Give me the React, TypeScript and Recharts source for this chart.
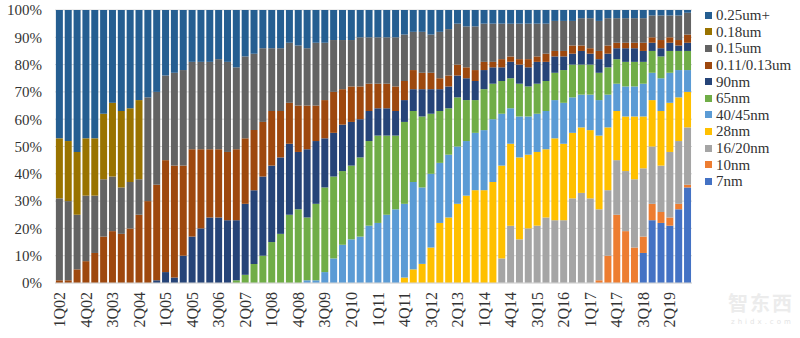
import React from 'react';
import { BarChart, Bar, XAxis, YAxis, CartesianGrid } from 'recharts';

const quarters = [
  '1Q02', '2Q02', '3Q02', '4Q02', '1Q03', '2Q03', '3Q03', '4Q03',
  '1Q04', '2Q04', '3Q04', '4Q04', '1Q05', '2Q05', '3Q05', '4Q05',
  '1Q06', '2Q06', '3Q06', '4Q06', '1Q07', '2Q07', '3Q07', '4Q07',
  '1Q08', '2Q08', '3Q08', '4Q08', '1Q09', '2Q09', '3Q09', '4Q09',
  '1Q10', '2Q10', '3Q10', '4Q10', '1Q11', '2Q11', '3Q11', '4Q11',
  '1Q12', '2Q12', '3Q12', '4Q12', '1Q13', '2Q13', '3Q13', '4Q13',
  '1Q14', '2Q14', '3Q14', '4Q14', '1Q15', '2Q15', '3Q15', '4Q15',
  '1Q16', '2Q16', '3Q16', '4Q16', '1Q17', '2Q17', '3Q17', '4Q17',
  '1Q18', '2Q18', '3Q18', '4Q18', '1Q19', '2Q19', '3Q19', '4Q19',
];

const nm7 = [
  0, 0, 0, 0, 0, 0, 0, 0, 0, 0, 0, 0, 0, 0, 0, 0,
  0, 0, 0, 0, 0, 0, 0, 0, 0, 0, 0, 0, 0, 0, 0, 0,
  0, 0, 0, 0, 0, 0, 0, 0, 0, 0, 0, 0, 0, 0, 0, 0,
  0, 0, 0, 0, 0, 0, 0, 0, 0, 0, 0, 0, 0, 0, 0, 0,
  0, 0, 11, 23, 22, 21, 27, 35,
];
const nm10 = [
  0, 0, 0, 0, 0, 0, 0, 0, 0, 0, 0, 0, 0, 0, 0, 0,
  0, 0, 0, 0, 0, 0, 0, 0, 0, 0, 0, 0, 0, 0, 0, 0,
  0, 0, 0, 0, 0, 0, 0, 0, 0, 0, 0, 0, 0, 0, 0, 0,
  0, 0, 0, 0, 0, 0, 0, 0, 0, 0, 0, 0, 0, 1, 10, 25,
  19, 13, 6, 6, 4, 3, 2, 1,
];
const nm16 = [
  0, 0, 0, 0, 0, 0, 0, 0, 0, 0, 0, 0, 0, 0, 0, 0,
  0, 0, 0, 0, 0, 0, 0, 0, 0, 0, 0, 0, 0, 0, 0, 0,
  0, 0, 0, 0, 0, 0, 0, 0, 0, 0, 0, 0, 0, 0, 0, 0,
  0, 0, 9, 21, 16, 20, 21, 24, 23, 23, 31, 33, 31, 26, 24, 20,
  22, 25, 25, 21, 17, 24, 23, 21,
];
const nm28 = [
  0, 0, 0, 0, 0, 0, 0, 0, 0, 0, 0, 0, 0, 0, 0, 0,
  0, 0, 0, 0, 0, 0, 0, 0, 0, 0, 0, 0, 0, 0, 0, 0,
  0, 0, 0, 0, 0, 0, 0, 2, 5, 7, 13, 22, 24, 29, 32, 34,
  34, 37, 34, 30, 30, 27, 27, 25, 30, 28, 24, 24, 25, 27, 23, 18,
  20, 23, 19, 17, 20, 18, 16, 13,
];
const nm40 = [
  0, 0, 0, 0, 0, 0, 0, 0, 0, 0, 0, 0, 0, 0, 0, 0,
  0, 0, 0, 0, 0, 0, 0, 0, 0, 0, 0, 0, 1, 1, 4, 9,
  14, 16, 17, 21, 22, 25, 27, 27, 32, 28, 27, 22, 23, 21, 20, 21,
  22, 23, 19, 13, 15, 14, 14, 14, 14, 15, 13, 12, 13, 13, 12, 10,
  11, 11, 12, 10, 12, 11, 10, 8,
];
const nm65 = [
  0, 0, 0, 0, 0, 0, 0, 0, 0, 0, 0, 0, 0, 0, 0, 0,
  0, 0, 0, 0, 1, 3, 7, 10, 15, 18, 25, 27, 23, 28, 31, 30,
  27, 27, 29, 31, 32, 29, 27, 30, 26, 26, 22, 19, 17, 18, 15, 12,
  15, 13, 12, 11, 12, 11, 11, 11, 10, 12, 12, 11, 11, 10, 10, 9,
  9, 9, 8, 8, 8, 8, 7, 7,
];
const nm90 = [
  0, 0, 0, 0, 0, 0, 0, 0, 0, 0, 0, 1, 4, 2, 10, 17,
  20, 24, 24, 23, 22, 26, 27, 29, 28, 28, 26, 21, 25, 23, 18, 16,
  17, 16, 14, 11, 10, 10, 9, 8, 8, 10, 9, 8, 8, 8, 8, 7,
  7, 6, 5, 6, 7, 7, 8, 7, 6, 5, 4, 5, 4, 5, 5, 4,
  5, 5, 4, 3, 3, 3, 2, 3,
];
const um013 = [
  1, 1, 5, 8, 11, 17, 19, 18, 20, 25, 30, 35, 41, 41, 33, 32,
  29, 25, 25, 25, 26, 24, 22, 20, 20, 17, 15, 17, 16, 13, 14, 15,
  13, 13, 12, 10, 9, 9, 9, 7, 7, 6, 6, 4, 4, 4, 4, 4,
  3, 2, 3, 2, 2, 3, 2, 3, 2, 2, 3, 2, 2, 3, 3, 2,
  2, 2, 3, 2, 3, 2, 2, 3,
];
const um015 = [
  30, 29, 20, 24, 21, 21, 20, 17, 17, 13, 38, 34, 31, 34, 35, 32,
  32, 32, 33, 33, 30, 30, 28, 27, 23, 23, 22, 22, 21, 23, 21, 19,
  18, 17, 18, 17, 17, 17, 18, 17, 14, 15, 14, 17, 17, 15, 15, 16,
  14, 14, 13, 12, 13, 13, 12, 11, 11, 11, 9, 10, 11, 11, 10, 9,
  9, 9, 9, 8, 9, 8, 9, 8,
];
const um018 = [
  22, 22, 23, 21, 21, 24, 27, 28, 27, 29, 0, 0, 0, 0, 0, 0,
  0, 0, 0, 0, 0, 0, 0, 0, 0, 0, 0, 0, 0, 0, 0, 0,
  0, 0, 0, 0, 0, 0, 0, 0, 0, 0, 0, 0, 0, 0, 0, 0,
  0, 0, 0, 0, 0, 0, 0, 0, 0, 0, 0, 0, 0, 0, 0, 0,
  0, 0, 0, 0, 0, 0, 0, 0,
];
const um025 = [
  47, 48, 52, 47, 47, 38, 34, 37, 36, 33, 32, 30, 24, 23, 22, 19,
  19, 19, 18, 19, 21, 17, 16, 14, 14, 14, 12, 13, 14, 12, 12, 11,
  11, 11, 10, 10, 10, 10, 10, 9, 8, 8, 9, 8, 7, 5, 6, 6,
  5, 5, 5, 5, 5, 5, 5, 5, 4, 4, 4, 3, 3, 4, 3, 3,
  3, 3, 3, 2, 2, 2, 2, 1,
];

const yTicks = [0, 10, 20, 30, 40, 50, 60, 70, 80, 90, 100];

const seriesDefs = [
  { key: 'nm7', name: '7nm', color: '#4472C4', values: nm7 },
  { key: 'nm10', name: '10nm', color: '#ED7D31', values: nm10 },
  { key: 'nm16', name: '16/20nm', color: '#A5A5A5', values: nm16 },
  { key: 'nm28', name: '28nm', color: '#FFC000', values: nm28 },
  { key: 'nm40', name: '40/45nm', color: '#5B9BD5', values: nm40 },
  { key: 'nm65', name: '65nm', color: '#70AD47', values: nm65 },
  { key: 'nm90', name: '90nm', color: '#264478', values: nm90 },
  { key: 'um013', name: '0.11/0.13um', color: '#9E480E', values: um013 },
  { key: 'um015', name: '0.15um', color: '#636363', values: um015 },
  { key: 'um018', name: '0.18um', color: '#997300', values: um018 },
  { key: 'um025', name: '0.25um+', color: '#255E91', values: um025 },
];

const data = quarters.map((q, i) => {
  const row: Record<string, any> = { q };
  seriesDefs.forEach((s) => {
    row[s.key] = s.values[i];
  });
  return row;
});

const FONT = '"Liberation Serif", "Times New Roman", serif';

const XTick = (props: any) => {
  const { x, y, payload } = props;
  return (
    <text
      x={x}
      y={y}
      transform={`rotate(-90, ${x}, ${y})`}
      textAnchor="end"
      dy="0.35em"
      fontFamily={FONT}
      fontSize={16}
      fill="#333"
    >
      {payload.value}
    </text>
  );
};

export default function App() {
  const legendItems = [...seriesDefs].reverse();
  return (
    <div style={{ position: 'absolute', left: 0, top: 0, width: 800, height: 338, background: '#fff' }}>
      <BarChart
        width={800}
        height={338}
        data={data}
        margin={{ top: 10, right: 108, bottom: 5, left: 5 }}
        barCategoryGap="10%"
      >
        <CartesianGrid vertical={false} stroke="#D9D9D9" />
        <XAxis
          dataKey="q"
          interval={2}
          tickLine={false}
          tickSize={0}
          tickMargin={9}
          height={50}
          axisLine={{ stroke: '#D9D9D9' }}
          tick={<XTick />}
        />
        <YAxis
          domain={[0, 100]}
          ticks={yTicks}
          tickFormatter={(v: number) => `${v}%`}
          axisLine={false}
          tickLine={false}
          width={50}
          tickMargin={7}
          tick={{ fontFamily: FONT, fontSize: 15, fill: '#333' }}
        />
        {seriesDefs.map((s) => (
          <Bar key={s.key} dataKey={s.key} name={s.name} stackId="a" fill={s.color} isAnimationActive={false} />
        ))}
      </BarChart>
      <div style={{ position: 'absolute', left: 705, top: 7, width: 95 }}>
        {legendItems.map((s) => (
          <div key={s.key} style={{ height: 16.6, display: 'flex', alignItems: 'center' }}>
            <span style={{ width: 7, height: 7, background: s.color, display: 'inline-block', marginRight: 4 }} />
            <span style={{ fontFamily: FONT, fontSize: 15, color: '#333', lineHeight: '16px', whiteSpace: 'nowrap' }}>{s.name}</span>
          </div>
        ))}
      </div>
      <div
        style={{
          position: 'absolute',
          left: 728,
          top: 291,
          fontFamily: '"Noto Sans CJK SC", sans-serif',
          fontSize: 20,
          lineHeight: '24px',
          fontWeight: 700,
          color: '#ececec',
          letterSpacing: 2,
        }}
      >
        智东西
      </div>
      <div
        style={{
          position: 'absolute',
          left: 731,
          top: 318,
          fontFamily: '"DejaVu Sans", sans-serif',
          fontSize: 7,
          lineHeight: '9px',
          color: '#e4e4e4',
          letterSpacing: 3,
        }}
      >
        zhidx.com
      </div>
    </div>
  );
}
